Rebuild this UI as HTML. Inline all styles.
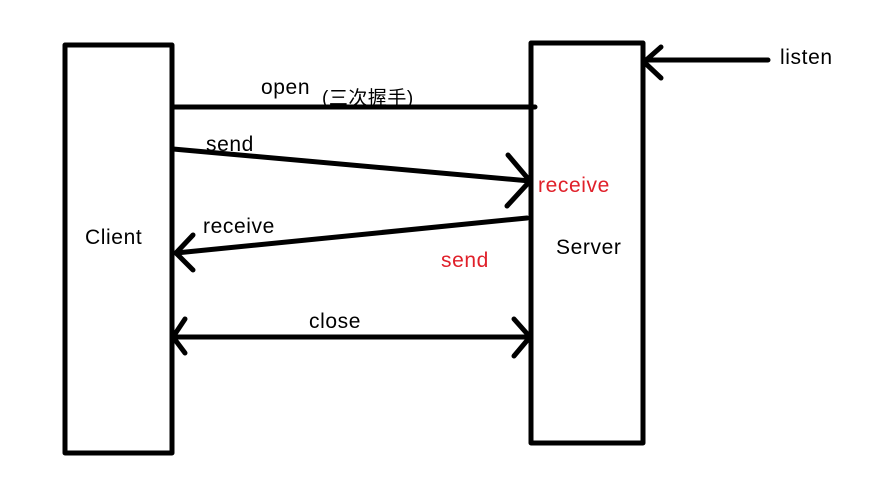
<!DOCTYPE html>
<html><head><meta charset="utf-8">
<style>
html,body{margin:0;padding:0;background:#fff;}
svg{display:block;}
text{font-family:"Liberation Sans","Noto Sans CJK SC",sans-serif;font-size:21px;letter-spacing:0.6px;fill:#000;}
</style></head>
<body>
<svg width="888" height="479" viewBox="0 0 888 479" xmlns="http://www.w3.org/2000/svg">
<rect width="888" height="479" fill="#fff"/>
<g fill="none" stroke="#000" stroke-width="5" stroke-linecap="round" stroke-linejoin="round">
<rect x="65" y="45" width="107" height="408"/>
<rect x="531" y="43" width="112" height="400"/>
<line x1="173" y1="107" x2="535" y2="107"/>
<line x1="173" y1="149" x2="530" y2="181"/>
<polyline points="508,155 530,181 507,206"/>
<line x1="527" y1="218" x2="176" y2="253"/>
<polyline points="193,235 176,253 193,270"/>
<line x1="173" y1="337" x2="530" y2="337"/>
<polyline points="185,319 173,337 185,353"/>
<polyline points="514,319 530,337 514,356"/>
<line x1="645" y1="60" x2="768" y2="60"/>
<polyline points="661,47 644,62 661,78"/>
</g>
<text x="261" y="94">open</text>
<text x="322" y="104" style="font-size:19px;letter-spacing:0.5px">(三次握手)</text>
<text x="206" y="151">send</text>
<text x="538" y="192" style="fill:#e0202a">receive</text>
<text x="203" y="233">receive</text>
<text x="441" y="267" style="fill:#e0202a">send</text>
<text x="85" y="244">Client</text>
<text x="556" y="254">Server</text>
<text x="309" y="328">close</text>
<text x="780" y="64">listen</text>
</svg>
</body></html>
